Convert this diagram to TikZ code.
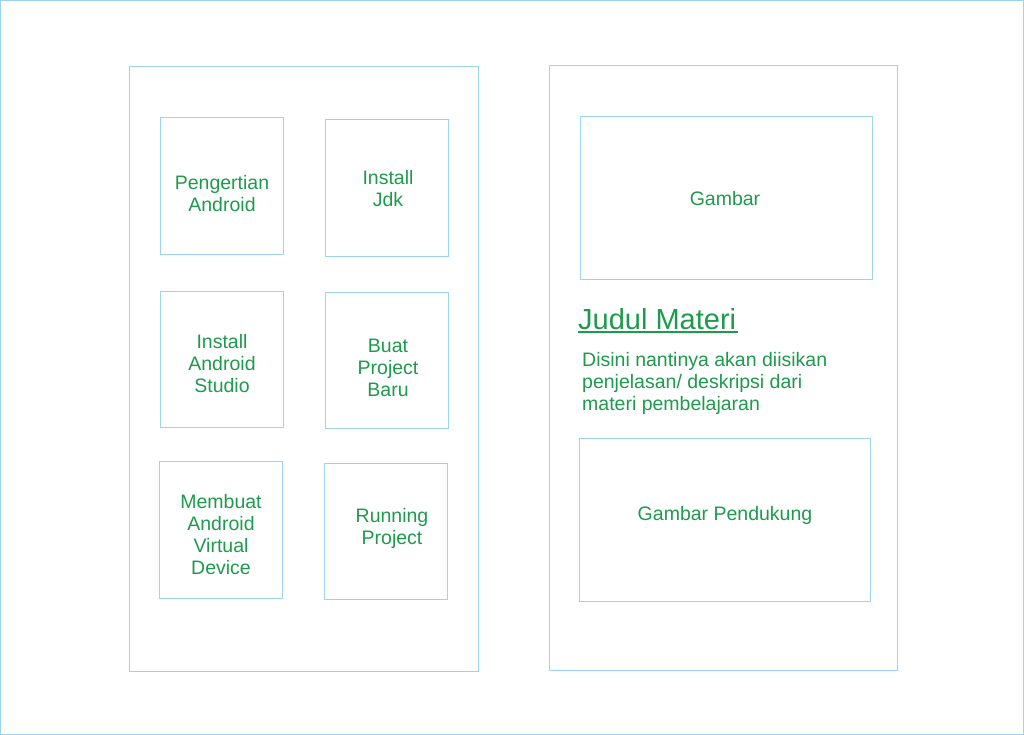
\documentclass[tikz,border=0pt]{standalone}
\usepackage{fontspec}
\setmainfont{Liberation Sans}
\definecolor{frameblue}{HTML}{9DD5F0}
\definecolor{txtgreen}{HTML}{1E9A4C}
\begin{document}
\begin{tikzpicture}[x=1pt,y=-1pt,
  panel/.style={draw=frameblue,line width=1pt},
  tile/.style={draw=frameblue,line width=1pt},
  lbl/.style={text=txtgreen,font=\fontsize{19.5}{22}\selectfont,align=center,inner sep=0pt},
  desc/.style={text=txtgreen,font=\fontsize{19.5}{22.2}\selectfont,align=left,inner sep=0pt},
  title/.style={text=txtgreen,font=\fontsize{29}{32}\selectfont,inner sep=0pt}]
\useasboundingbox (0,0) rectangle (1024,735);
\draw[frameblue,line width=1pt] (0.5,0.5) rectangle (1023.5,734.5);
% panels
\draw[panel] (129,67) rectangle (478,671);
\draw[panel] (549,66) rectangle (897,670);
% left tiles
\draw[tile] (160,118) rectangle (283,254);
\draw[tile] (325,120) rectangle (448,256);
\draw[tile] (160,291) rectangle (283,427);
\draw[tile] (325,292) rectangle (448,428);
\draw[tile] (159,461) rectangle (282,598);
\draw[tile] (324,463) rectangle (447,599);
\node[lbl] (t1) at (222,194) {Pengertian\\Android};
\node[lbl] (t2) at (388,189) {Install\\Jdk};
\node[lbl] (t3) at (222,364) {Install\\Android\\Studio};
\node[lbl] (t4) at (388,368) {Buat\\Project\\Baru};
\node[lbl] (t5) at (221,535) {Membuat\\Android\\Virtual\\Device};
\node[lbl] (t6) at (392,528) {Running\\Project};
% right panel
\draw[tile] (580,117) rectangle (872,279);
\draw[tile] (579,438) rectangle (870,601);
\node[lbl] (g1) at (725,199) {Gambar};
\node[lbl] (g2) at (725,515) {Gambar Pendukung};
\node[title,anchor=base west] (judul) at (578,329) {Judul Materi};
\draw[txtgreen,line width=1.4pt] ([yshift=-3pt]judul.base west) -- ([yshift=-3pt,xshift=2pt]judul.base east);
\node[desc,anchor=north west] (d) at (582,352) {Disini nantinya akan diisikan\\penjelasan/ deskripsi dari\\materi pembelajaran};
\end{tikzpicture}
\end{document}
